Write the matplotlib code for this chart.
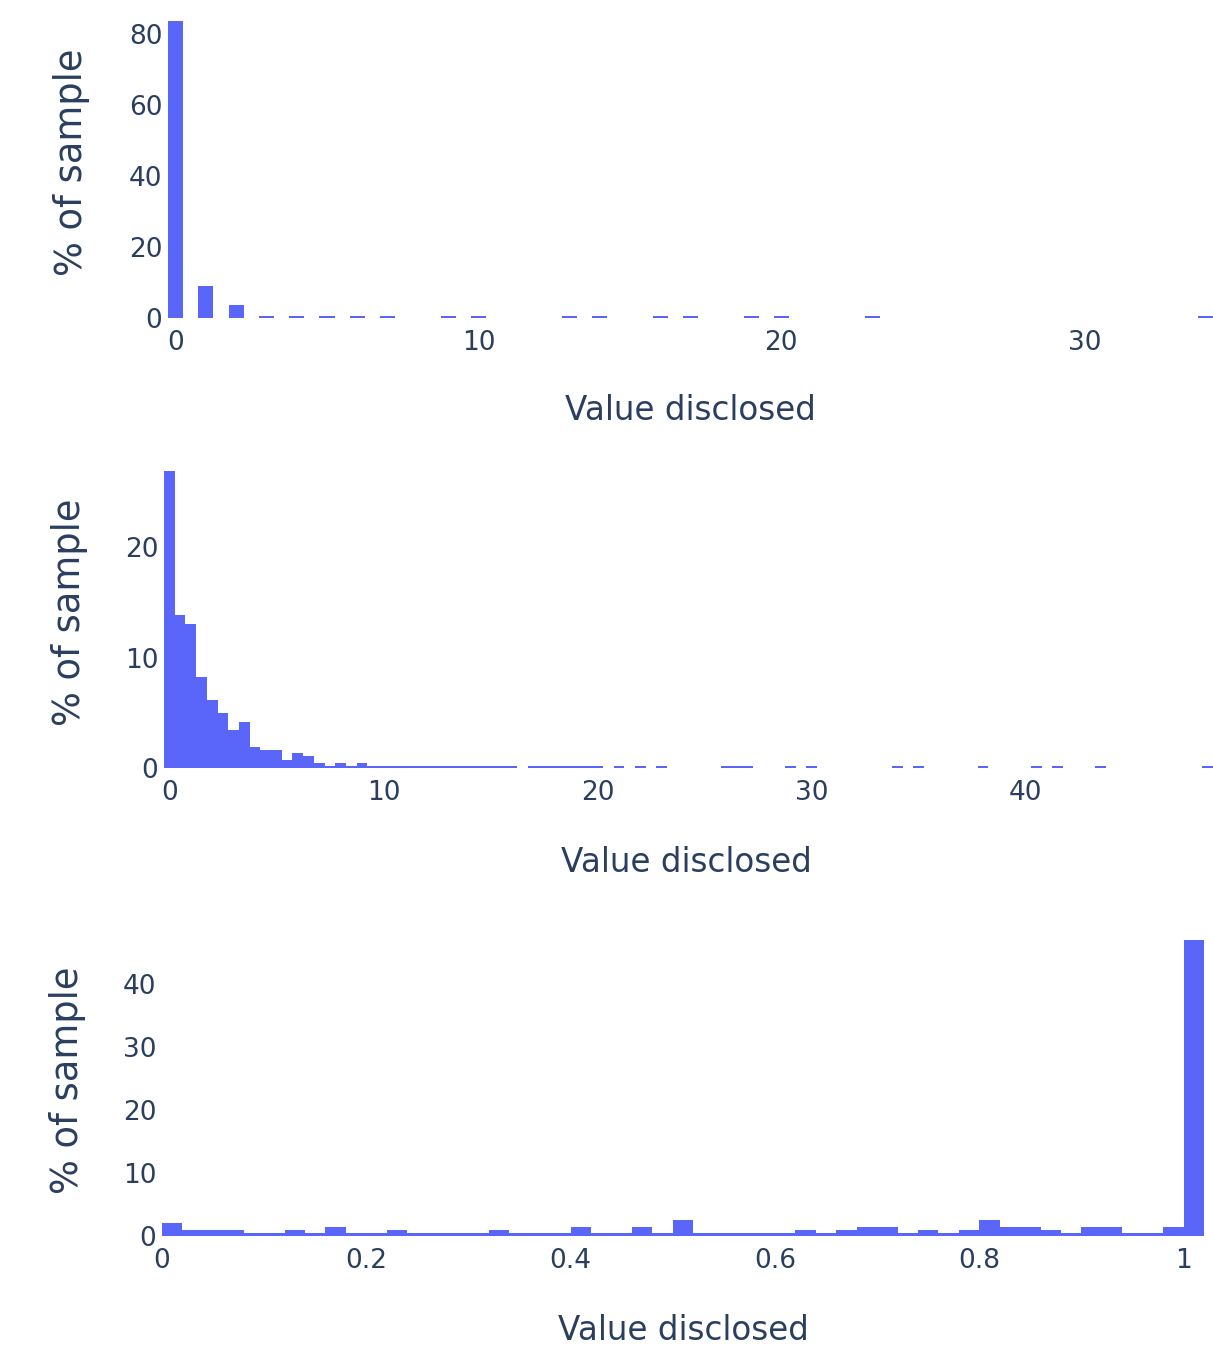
import matplotlib
matplotlib.use("Agg")
import matplotlib.pyplot as plt

plt.rcParams['font.family'] = ['DejaVu Sans']

# panel 1: whole numbers, bins of 0.5 centred on the integers
values1 = [0, 1, 2, 3, 4, 5, 6, 7, 9, 10, 13, 14, 16, 17, 19, 20, 23, 34]
pct1 = [83.7, 9.0, 3.7, 0.7, 0.7, 0.7, 0.7, 0.7, 0.7, 0.7,
        0.7, 0.7, 0.7, 0.7, 0.7, 0.7, 0.7, 0.7]

# panel 2: left edges of the 0.5 wide bins and their share
edges2 = [-0.25, 0.25, 0.75, 1.25, 1.75, 2.25, 2.75, 3.25, 3.75, 4.25,
          4.75, 5.25, 5.75, 6.25, 6.75, 7.25, 7.75, 8.25, 8.75,
          9.25, 9.75, 10.25, 10.75, 11.25, 11.75, 12.25, 12.75, 13.25,
          13.75, 14.25, 14.75, 15.25, 15.75,
          16.75, 17.25, 17.75, 18.25, 18.75, 19.25, 19.75,
          20.75, 21.75, 22.75, 25.75, 26.25, 26.75, 28.75, 29.75,
          33.75, 34.75, 37.75, 40.25, 41.25, 43.25, 48.25]
pct2 = [26.9, 13.9, 13.0, 8.2, 6.2, 5.0, 3.4, 4.2, 1.9, 1.66,
        1.66, 0.75, 1.39, 1.12, 0.48, 0.22, 0.48, 0.22, 0.48,
        0.22, 0.22, 0.22, 0.22, 0.22, 0.22, 0.22, 0.22, 0.22,
        0.22, 0.22, 0.22, 0.22, 0.22,
        0.22, 0.22, 0.22, 0.22, 0.22, 0.22, 0.22,
        0.22, 0.22, 0.22, 0.22, 0.22, 0.22, 0.22, 0.22,
        0.22, 0.22, 0.22, 0.22, 0.22, 0.22, 0.22]

# panel 3: 0.02 wide bins from 0 to 1.02
edges3 = [round(0.02 * i, 2) for i in range(51)]
pct3 = [2.0, 0.9, 0.9, 0.9, 0.45, 0.45, 0.9, 0.45, 1.4, 0.45,
        0.45, 0.9, 0.45, 0.45, 0.45, 0.45, 0.9, 0.45, 0.45, 0.45,
        1.4, 0.45, 0.45, 1.4, 0.45, 2.5, 0.45, 0.45, 0.45, 0.45,
        0.45, 0.9, 0.45, 0.9, 1.4, 1.4, 0.45, 0.9, 0.45, 0.9,
        2.5, 1.4, 1.4, 0.9, 0.45, 1.4, 1.4, 0.45, 0.45, 1.4,
        46.9]

xticks1 = [0, 10, 20, 30]
yticks1 = [0, 20, 40, 60, 80]
xticks2 = [0, 10, 20, 30, 40]
yticks2 = [0, 10, 20]
xticks3 = [0, 0.2, 0.4, 0.6, 0.8, 1]
xlabels3 = ['0', '0.2', '0.4', '0.6', '0.8', '1']
yticks3 = [0, 10, 20, 30, 40]

BAR = '#5a65f9'
TXT = '#2a3f5f'
W, H = 1213, 1349

fig = plt.figure(figsize=(W / 100, H / 100), dpi=100)


def box(l, t, r, b):
    return [l / W, 1 - b / H, (r - l) / W, (b - t) / H]


def style(ax):
    for s in ax.spines.values():
        s.set_visible(False)
    ax.tick_params(length=0, labelsize=19, labelcolor=TXT)
    ax.tick_params(axis='x', pad=9)
    ax.tick_params(axis='y', pad=4)


ax1 = fig.add_axes(box(168, 21, 1213, 318))
ax1.bar(values1, pct1, width=0.5, color=BAR, linewidth=0)
ax1.set_xlim(-0.25, 34.25)
ax1.set_ylim(0, 83.7)
ax1.set_xticks(xticks1)
ax1.set_yticks(yticks1)
style(ax1)

ax2 = fig.add_axes(box(164, 471, 1213, 768))
ax2.bar(edges2, pct2, width=0.5, align='edge', color=BAR, linewidth=0)
ax2.set_xlim(-0.25, 48.75)
ax2.set_ylim(0, 26.9)
ax2.set_xticks(xticks2)
ax2.set_yticks(yticks2)
style(ax2)

ax3 = fig.add_axes(box(162, 940, 1213, 1236))
ax3.bar(edges3, pct3, width=0.02, align='edge', color=BAR, linewidth=0)
ax3.set_xlim(0, 1.0288)
ax3.set_ylim(0, 46.9)
ax3.set_xticks(xticks3, xlabels3)
ax3.set_yticks(yticks3)
style(ax3)

# axis titles
for cx, cy in [(71, 162), (69, 612), (67, 1080)]:
    fig.text(cx / W, 1 - cy / H, '% of sample', rotation=90, ha='center',
             va='center', fontsize=26.5, color=TXT)
for cx, cy in [(690, 410), (686, 862), (683, 1330)]:
    fig.text(cx / W, 1 - cy / H, 'Value disclosed', ha='center',
             va='center', fontsize=23.5, color=TXT)

fig.savefig('out.png', dpi=100)
